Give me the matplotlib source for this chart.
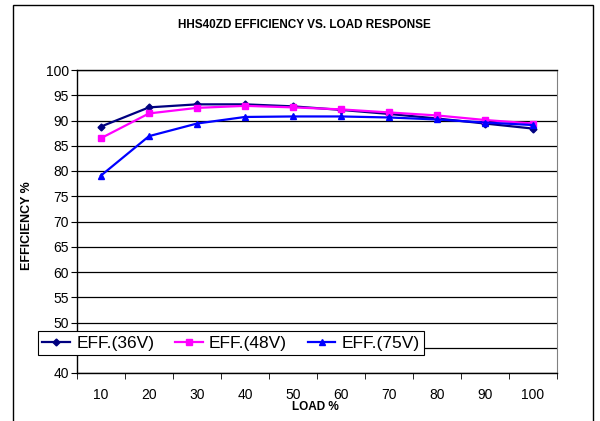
import matplotlib.pyplot as plt
from matplotlib.patches import Rectangle

plt.rcParams['font.family'] = ['Liberation Sans', 'DejaVu Sans']

loads = [10, 20, 30, 40, 50, 60, 70, 80, 90, 100]
eff_36v = [88.8, 92.6, 93.2, 93.2, 92.8, 92.1, 91.3, 90.4, 89.4, 88.4]
eff_48v = [86.5, 91.4, 92.5, 92.9, 92.6, 92.2, 91.6, 91.0, 90.1, 89.4]
eff_75v = [79.1, 86.9, 89.4, 90.7, 90.8, 90.8, 90.6, 90.2, 89.6, 89.1]

fig = plt.figure(figsize=(6, 4.21), dpi=100)
ax = fig.add_axes([77 / 600, 1 - 373 / 421, 480 / 600, 303 / 421])

# outer chart border (bottom edge runs off the image)
fig.patches.append(Rectangle((13 / 600, -0.05), 580 / 600, 1.05 - 5 / 421,
                             transform=fig.transFigure, fill=False,
                             edgecolor='black', linewidth=1.0))

pos = list(range(len(loads)))
ax.plot(pos, eff_36v, color='#000080', marker='D', markersize=3.5, linewidth=1.6, label='EFF.(36V)')
ax.plot(pos, eff_48v, color='#FF00FF', marker='s', markersize=4.5, linewidth=1.6, label='EFF.(48V)')
ax.plot(pos, eff_75v, color='#0000FF', marker='^', markersize=5, linewidth=1.6, label='EFF.(75V)')

ax.set_ylim(40, 100)
ax.set_yticks(range(40, 101, 5))
ax.set_xlim(-0.5, len(loads) - 0.5)
ax.set_xticks(pos)
ax.set_xticklabels([str(v) for v in loads])
ax.set_xticks([p - 0.5 for p in pos] + [len(loads) - 0.5], minor=True)
ax.tick_params(axis='x', which='major', length=0, pad=11, labelsize=10)
ax.tick_params(axis='x', which='minor', length=4, direction='out', color='black')
ax.tick_params(axis='y', length=4, direction='out', labelsize=10, pad=2)

ax.grid(axis='y', color='black', linewidth=0.9)
ax.set_axisbelow(True)
for s in ['left', 'bottom', 'top']:
    ax.spines[s].set_color('black')
    ax.spines[s].set_linewidth(1.0)
ax.spines['right'].set_color('#808080')

fig.text(304 / 600, 1 - 25.5 / 421, 'HHS40ZD EFFICIENCY VS. LOAD RESPONSE',
         ha='center', va='center', fontsize=8.5, fontweight='bold')
fig.text(315 / 600, 1 - 407 / 421, 'LOAD %', ha='center', va='center',
         fontsize=8.5, fontweight='bold')
fig.text(27 / 600, 1 - 226 / 421, 'EFFICIENCY %', ha='center', va='center',
         rotation=90, fontsize=9, fontweight='bold')

leg = fig.legend(loc='lower left', bbox_to_anchor=(38 / 600, 1 - 355 / 421),
                 ncol=3, fontsize=12.5, frameon=True, fancybox=False,
                 framealpha=1, borderpad=0.25, handlelength=1.6,
                 handletextpad=0.35, columnspacing=1.2, borderaxespad=0)
leg.get_frame().set_edgecolor('black')
leg.get_frame().set_linewidth(0.8)

fig.savefig('out.png', dpi=100)
